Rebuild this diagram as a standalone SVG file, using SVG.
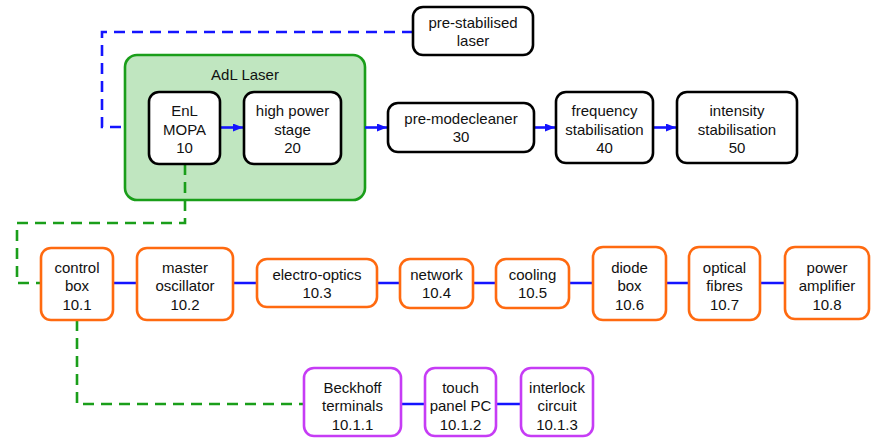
<svg xmlns="http://www.w3.org/2000/svg" width="872" height="438" viewBox="0 0 872 438">
<style>
text{font-family:"Liberation Sans",Arial,sans-serif;font-size:15px;fill:#111;text-anchor:middle}
.blk{fill:#fff;stroke:#000;stroke-width:2.6}
.org{fill:#fff;stroke:#ff6a10;stroke-width:2.6}
.pur{fill:#fff;stroke:#c63cf5;stroke-width:2.6}
.grp{fill:#c0e6c0;stroke:#1a9e1a;stroke-width:2.6}
.bl{fill:none;stroke:#1414ff;stroke-width:2.6}
.bd{fill:none;stroke:#1414ff;stroke-width:2.6;stroke-dasharray:11 7}
.gd{fill:none;stroke:#1a9e1a;stroke-width:2.6;stroke-dasharray:11 7}
</style>
<defs>
<marker id="ah" viewBox="0 0 10 8" refX="10" refY="4" markerWidth="10" markerHeight="8" markerUnits="userSpaceOnUse" orient="auto">
<path d="M0,0 L10,4 L0,8 z" fill="#1414ff"/>
</marker>
</defs>
<g id="adl-laser">
<rect class="grp" x="125" y="55" width="240" height="145" rx="12"/>
<text x="245" y="80">AdL Laser</text>
</g>
<g id="connectors">
<path class="bd" d="M413,32 H102 V127 H125"/>
<path class="gd" d="M185,164 V223 H17 V283 H41"/>
<path class="gd" d="M77,320 V404 H304"/>
<path class="bl" d="M220,127.5 H243" marker-end="url(#ah)"/>
<path class="bl" d="M365,127.5 H387" marker-end="url(#ah)"/>
<path class="bl" d="M534,127.5 H555" marker-end="url(#ah)"/>
<path class="bl" d="M653,127.5 H676" marker-end="url(#ah)"/>
<path class="bl" d="M113,283 H137 M233,283 H257 M377,283 H400 M473,283 H496 M569,283 H593 M666,283 H689 M760,283 H785"/>
<path class="bl" d="M401,404 H425 M496,404 H521"/>
</g>
<g id="pre-stabilised-laser">
<rect class="blk" x="413" y="7" width="120" height="48" rx="10"/>
<text x="473" y="27.5">pre-stabilised</text><text x="473" y="46">laser</text>
</g>
<g id="enl-mopa">
<rect class="blk" x="149" y="92" width="71" height="72" rx="10"/>
<text x="184.5" y="116">EnL</text><text x="184.5" y="134.5">MOPA</text><text x="184.5" y="153">10</text>
</g>
<g id="high-power-stage">
<rect class="blk" x="244" y="92" width="97" height="72" rx="10"/>
<text x="292.5" y="116">high power</text><text x="292.5" y="134.5">stage</text><text x="292.5" y="153">20</text>
</g>
<g id="pre-modecleaner">
<rect class="blk" x="388" y="103" width="146" height="49" rx="10"/>
<text x="461" y="123.5">pre-modecleaner</text><text x="461" y="142">30</text>
</g>
<g id="frequency-stabilisation">
<rect class="blk" x="556" y="92" width="97" height="71" rx="10"/>
<text x="604.5" y="116">frequency</text><text x="604.5" y="134.5">stabilisation</text><text x="604.5" y="153">40</text>
</g>
<g id="intensity-stabilisation">
<rect class="blk" x="677" y="92" width="120" height="71" rx="10"/>
<text x="737" y="116">intensity</text><text x="737" y="134.5">stabilisation</text><text x="737" y="153">50</text>
</g>
<g id="control-box">
<rect class="org" x="41" y="248" width="72" height="72" rx="10"/>
<text x="77" y="272.5">control</text><text x="77" y="291">box</text><text x="77" y="309.5">10.1</text>
</g>
<g id="master-oscillator">
<rect class="org" x="137" y="248" width="96" height="72" rx="10"/>
<text x="185" y="272.5">master</text><text x="185" y="291">oscillator</text><text x="185" y="309.5">10.2</text>
</g>
<g id="electro-optics">
<rect class="org" x="257" y="259" width="120" height="48" rx="10"/>
<text x="317" y="279.5">electro-optics</text><text x="317" y="298">10.3</text>
</g>
<g id="network">
<rect class="org" x="400" y="259" width="73" height="49" rx="10"/>
<text x="436.5" y="279.5">network</text><text x="436.5" y="298">10.4</text>
</g>
<g id="cooling">
<rect class="org" x="496" y="259" width="73" height="49" rx="10"/>
<text x="532.5" y="279.5">cooling</text><text x="532.5" y="298">10.5</text>
</g>
<g id="diode-box">
<rect class="org" x="593" y="247" width="73" height="73" rx="10"/>
<text x="629.5" y="272.5">diode</text><text x="629.5" y="291">box</text><text x="629.5" y="309.5">10.6</text>
</g>
<g id="optical-fibres">
<rect class="org" x="689" y="247" width="71" height="73" rx="10"/>
<text x="724.5" y="272.5">optical</text><text x="724.5" y="291">fibres</text><text x="724.5" y="309.5">10.7</text>
</g>
<g id="power-amplifier">
<rect class="org" x="785" y="247" width="84" height="72" rx="10"/>
<text x="827" y="272.5">power</text><text x="827" y="291">amplifier</text><text x="827" y="309.5">10.8</text>
</g>
<g id="beckhoff-terminals">
<rect class="pur" x="304" y="368" width="97" height="68" rx="10"/>
<text x="352.5" y="392.5">Beckhoff</text><text x="352.5" y="411">terminals</text><text x="352.5" y="429.5">10.1.1</text>
</g>
<g id="touch-panel-pc">
<rect class="pur" x="425" y="368" width="71" height="68" rx="10"/>
<text x="460.5" y="392.5">touch</text><text x="460.5" y="411">panel PC</text><text x="460.5" y="429.5">10.1.2</text>
</g>
<g id="interlock-circuit">
<rect class="pur" x="521" y="368" width="72" height="68" rx="10"/>
<text x="557" y="392.5">interlock</text><text x="557" y="411">circuit</text><text x="557" y="429.5">10.1.3</text>
</g>
</svg>
